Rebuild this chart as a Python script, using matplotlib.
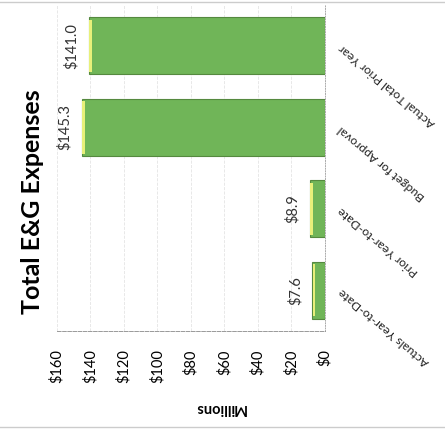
import matplotlib
matplotlib.use("Agg")
import matplotlib.pyplot as plt
from matplotlib.lines import Line2D

# chart is drawn turned a quarter turn, like the scanned page
categories = ["Actuals Year-to-Date", "Prior Year-to-Date", "Budget for Approval", "Actual Total Prior Year"]
values = [7.6, 8.9, 145.3, 141.0]
value_labels = ["$7.6", "$8.9", "$145.3", "$141.0"]
ticks = [0, 20, 40, 60, 80, 100, 120, 140, 160]
tick_labels = ["$" + str(t) for t in ticks]

plt.rcParams['font.family'] = ['Lato', 'DejaVu Sans']

fig = plt.figure(figsize=(4.45, 4.34), dpi=100)
ax = fig.add_axes([0.128, 0.237, 0.602, 0.751])
pos = list(range(len(categories)))

ax.barh(pos, values, height=0.7, color='#70b558', edgecolor='#55893f', linewidth=0.8, zorder=2)
# yellow highlight at the end of each bar
ax.barh(pos, [1.6] * len(values), left=[v - 1.9 for v in values], height=0.64,
        color='#e8f07a', linewidth=0, zorder=3)

for i, v in enumerate(values):
    ax.annotate(value_labels[i], (v, i), xytext=(-7, 0), textcoords='offset points',
                ha='right', va='center', rotation=90, fontsize=10.5, color='#333333')

ax.set_xlim(160, 0)
ax.set_ylim(-0.5, 3.5)
ax.set_xticks(ticks)
ax.set_xticklabels(tick_labels, rotation=90, fontsize=10.5)
ax.set_yticks(pos)
ax.yaxis.tick_right()
ax.set_yticklabels(categories, rotation=140, ha='right', va='center',
                   rotation_mode='anchor', fontsize=8.8, color='#222222')
ax.tick_params(axis='x', length=0, pad=13)
ax.tick_params(axis='y', length=0, pad=11)

ax.grid(axis='x', color='#e4e4e4', linestyle='--', linewidth=0.6, zorder=0)
ax.spines['top'].set_visible(False)
ax.spines['left'].set_visible(False)
ax.spines['bottom'].set_linestyle('--')
ax.spines['bottom'].set_color('#999999')
ax.spines['bottom'].set_linewidth(0.7)
ax.spines['right'].set_linestyle(':')
ax.spines['right'].set_color('#aaaaaa')
ax.spines['right'].set_linewidth(0.7)

fig.text(0.072, 0.535, "Total E&G Expenses", rotation=90, fontsize=18, fontweight='bold',
         ha='center', va='center')
fig.text(0.494, 0.06, "Millions", rotation=180, fontsize=10.5, fontweight='bold',
         ha='center', va='center')

# page edges of the scan
fig.add_artist(Line2D([0, 1], [0.995, 0.995], color='#cccccc', linewidth=1))
fig.add_artist(Line2D([0, 1], [0.016, 0.016], color='#cccccc', linewidth=1))

fig.savefig("out.png", dpi=100)
